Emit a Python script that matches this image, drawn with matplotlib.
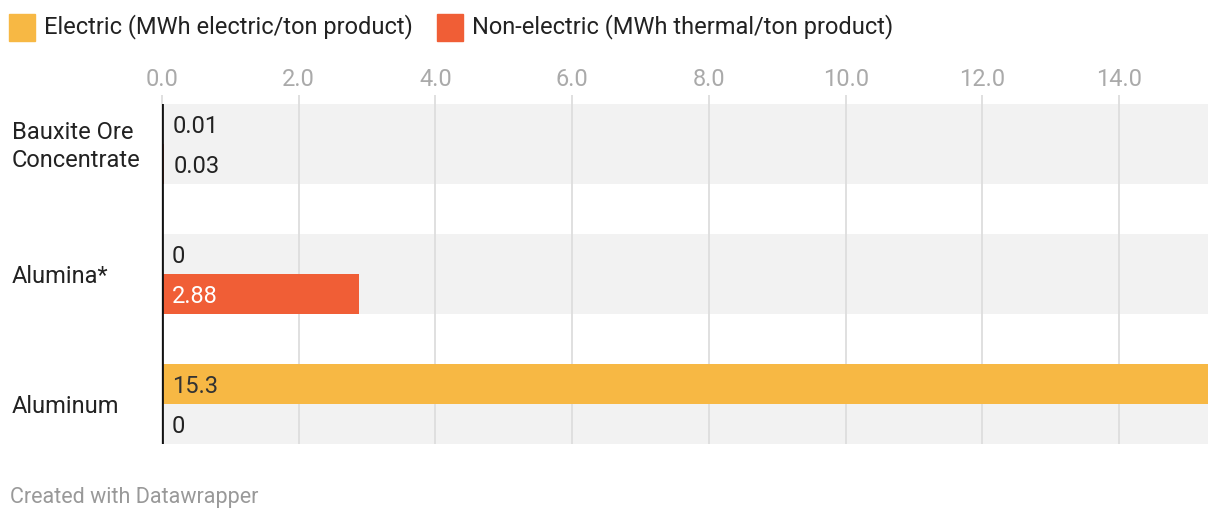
import numpy as np
import matplotlib.pyplot as plt
from matplotlib.transforms import blended_transform_factory, offset_copy
from matplotlib.patches import Rectangle

plt.rcParams['font.family'] = ['Roboto', 'DejaVu Sans']

categories = ["Bauxite Ore\nConcentrate", "Alumina*", "Aluminum"]
electric = [0.01, 0, 15.3]
non_electric = [0.03, 2.88, 0]
electric_labels = ["0.01", "0", "15.3"]
non_electric_labels = ["0.03", "2.88", "0"]
ticks = [0, 2, 4, 6, 8, 10, 12, 14]

yellow = "#F7B844"
orange = "#F05E36"

W, H = 1220, 522
fig = plt.figure(figsize=(W / 100, H / 100), dpi=100)
ax = fig.add_axes([162 / W, (H - 444) / H, 1046 / W, 340 / H])

bh = 40 / 130
y = np.arange(len(categories))

# gray bands behind each group
for yy in y:
    ax.add_patch(Rectangle((0, yy - bh), 15.3, 2 * bh, color="#F2F2F2", zorder=0, lw=0))

for t in ticks:
    ax.vlines(t, -bh - 0.07, 2 + bh, color="#DDDDDD", lw=1.3, zorder=1, clip_on=False)

ax.barh(y - bh / 2, electric, height=bh, color=yellow, zorder=2)
ax.barh(y + bh / 2, non_electric, height=bh, color=orange, zorder=2)

ax.set_xlim(0, 15.3)
ax.set_ylim(2 + bh, -bh)

# value labels
for vals, labs, off in [(electric, electric_labels, -bh / 2), (non_electric, non_electric_labels, bh / 2)]:
    for i, (v, lab) in enumerate(zip(vals, labs)):
        if v > 1:
            x0 = 0
            col = "white" if vals is non_electric else "#333333"
        else:
            x0 = v
            col = "#222222"
        tr = offset_copy(ax.transData, fig=fig, x=7, y=-1.5, units="points")
        ax.text(x0, y[i] + off, lab, transform=tr, ha="left", va="center",
                fontsize=17, color=col, zorder=3)

# category labels
trc = offset_copy(blended_transform_factory(fig.transFigure, ax.transData),
                  fig=fig, x=0, y=-1.5, units="points")
for i, c in enumerate(categories):
    ax.text(12 / W, y[i], c, transform=trc, ha="left", va="center",
            fontsize=17, color="#222222", linespacing=1.28)

ax.axvline(0, color="#111111", lw=2, zorder=4)

ax.xaxis.tick_top()
ax.set_xticks(ticks)
ax.set_xticklabels([f"{t:.1f}" for t in ticks])
ax.tick_params(axis="x", length=0, pad=9, labelsize=17, labelcolor="#AAAAAA")
ax.set_yticks([])
for s in ax.spines.values():
    s.set_visible(False)

# legend
fig.patches.append(Rectangle((9 / W, 1 - 41 / H), 26 / W, 27 / H, transform=fig.transFigure,
                             color=yellow, figure=fig))
fig.text(44 / W, 1 - 27 / H, "Electric (MWh electric/ton product)", ha="left", va="center",
         fontsize=17, color="#222222")
fig.patches.append(Rectangle((437 / W, 1 - 41 / H), 26 / W, 27 / H, transform=fig.transFigure,
                             color=orange, figure=fig))
fig.text(472 / W, 1 - 27 / H, "Non-electric (MWh thermal/ton product)", ha="left", va="center",
         fontsize=17, color="#222222")

fig.text(10 / W, 1 - 497 / H, "Created with Datawrapper", ha="left", va="center",
         fontsize=15.5, color="#999999")

fig.savefig("out.png", dpi=100, facecolor="white")
